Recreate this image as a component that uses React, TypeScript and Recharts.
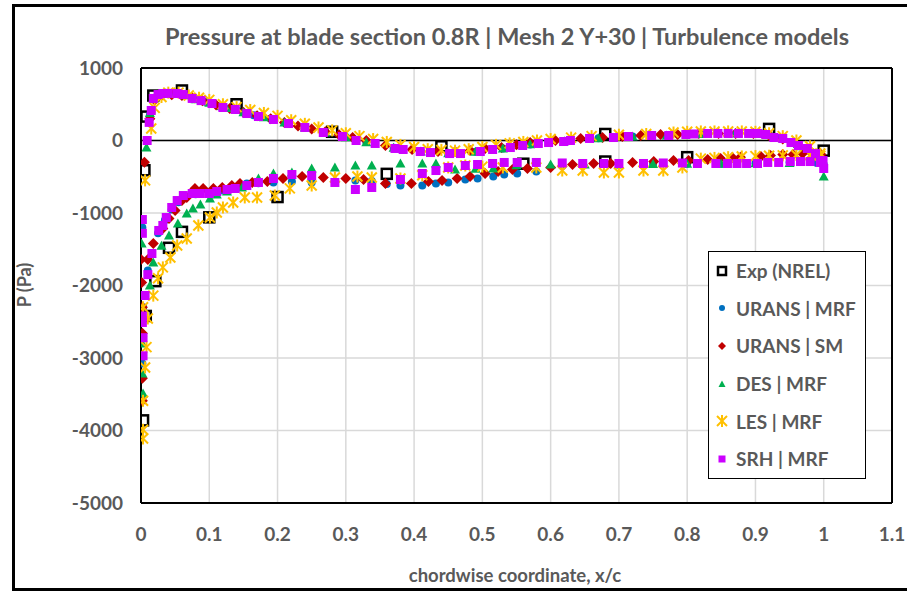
import React from 'react';
import {
  ScatterChart, Scatter, XAxis, YAxis, CartesianGrid, ReferenceLine,
} from 'recharts';

type Pt = [number, number];

// chordwise tick labels and pressure ticks
const xTicks = [0, 0.1, 0.2, 0.3, 0.4, 0.5, 0.6, 0.7, 0.8, 0.9, 1, 1.1];
const yTicks = [-5000, -4000, -3000, -2000, -1000, 0, 1000];

// Exp (NREL) taps
const expData: Pt[] = [
  [0.003, -3860], [0.005, -410], [0.008, 330], [0.018, 620], [0.06, 690], [0.14, 500],
  [0.28, 120], [0.44, -80], [0.68, 90], [0.92, 160], [1.0, -140],
  [0.007, -2420], [0.021, -1940], [0.041, -1480], [0.06, -1260], [0.1, -1060],
  [0.2, -780], [0.36, -460], [0.56, -320], [0.68, -290], [0.8, -230],
];

// URANS | MRF
const uransMrfData: Pt[] = [
  [0.002, -1200], [0.003, -2300], [0.002, -3076], [0.003, -2700], [0.01, -1793],
  [0.009, 0], [0.013, 350], [0.018, 570], [0.026, 630], [0.035, 645], [0.048, 645],
  [0.062, 630], [0.078, 575], [0.095, 530], [0.115, 470], [0.14, 420], [0.165, 350],
  [0.19, 300], [0.215, 240], [0.24, 180], [0.27, 110], [0.3, 50], [0.33, -20],
  [0.37, -100], [0.41, -150], [0.45, -175], [0.49, -155], [0.53, -110], [0.57, -55],
  [0.62, -10], [0.67, 30], [0.72, 55], [0.77, 70], [0.82, 90], [0.86, 97], [0.9, 97],
  [0.93, 40], [0.96, -60], [0.985, -170], [1.0, -330],
  [0.016, -1550], [0.025, -1280], [0.035, -1100], [0.045, -950], [0.055, -850],
  [0.065, -780], [0.08, -740], [0.1, -740], [0.12, -690], [0.14, -650], [0.155, -593],
  [0.172, -590], [0.194, -579], [0.221, -566], [0.25, -579], [0.284, -566], [0.314, -552],
  [0.338, -560], [0.36, -600], [0.38, -621], [0.412, -621], [0.432, -593], [0.45, -579],
  [0.475, -538], [0.493, -524], [0.516, -497], [0.532, -469], [0.551, -455], [0.579, -428],
  [0.617, -350], [0.647, -330], [0.7, -330], [0.75, -325], [0.8, -320], [0.85, -320],
  [0.9, -315], [0.95, -300], [0.99, -310],
];

// URANS | SM
const uransSmData: Pt[] = [
  [0.005, -300], [0.013, 300], [0.02, 560], [0.03, 620], [0.045, 630], [0.06, 620],
  [0.075, 590], [0.09, 550], [0.11, 490], [0.13, 440], [0.15, 390], [0.17, 340],
  [0.19, 300], [0.21, 250], [0.23, 200], [0.25, 160], [0.27, 120], [0.29, 80],
  [0.31, 40], [0.33, 0], [0.358, -69], [0.397, -124], [0.435, -152], [0.46, -150],
  [0.482, -138], [0.504, -110], [0.528, -97], [0.55, -60], [0.57, -28], [0.607, 0],
  [0.644, 28], [0.676, 41], [0.705, 55], [0.732, 69], [0.761, 83], [0.786, 83],
  [0.817, 97], [0.846, 97], [0.871, 97], [0.897, 97], [0.92, 70], [0.94, 20],
  [0.96, -60], [0.98, -150], [0.995, -230],
  [0.0, -1640], [0.001, -1960], [0.002, -2300], [0.002, -2660], [0.002, -3280],
  [0.002, -3590], [0.01, -1640], [0.018, -1420], [0.032, -1214], [0.041, -1076],
  [0.05, -966], [0.06, -828], [0.067, -786], [0.079, -662], [0.091, -662], [0.106, -662],
  [0.119, -648], [0.133, -621], [0.145, -593], [0.163, -579], [0.185, -566], [0.208, -524],
  [0.236, -497], [0.267, -510], [0.3, -524], [0.326, -538], [0.358, -593], [0.396, -593],
  [0.421, -566], [0.441, -552], [0.463, -524], [0.482, -497], [0.504, -455], [0.523, -428],
  [0.544, -400], [0.566, -386], [0.6, -372], [0.632, -331], [0.663, -317], [0.688, -317],
  [0.72, -303], [0.751, -290], [0.78, -276], [0.802, -276], [0.83, -262], [0.849, -248],
  [0.866, -234], [0.878, -230], [0.908, -221], [0.922, -207], [0.94, -193], [0.955, -193],
  [0.969, -180], [0.984, -180], [0.996, -193],
];

// DES | MRF
const desData: Pt[] = [
  [0.008, -97], [0.013, 380], [0.019, 580], [0.027, 630], [0.036, 645], [0.05, 645],
  [0.065, 625], [0.08, 570], [0.1, 520], [0.125, 450], [0.15, 390], [0.18, 320],
  [0.21, 250], [0.24, 180], [0.27, 110], [0.3, 45], [0.33, -25], [0.37, -100],
  [0.41, -150], [0.45, -175], [0.49, -155], [0.53, -110], [0.57, -50], [0.62, -10],
  [0.67, 30], [0.72, 55], [0.77, 70], [0.82, 90], [0.87, 97], [0.91, 90], [0.94, 30],
  [0.965, -80], [0.99, -220],
  [0.001, -1420], [0.013, -2000], [0.018, -1683], [0.002, -2800], [0.002, -3214],
  [0.003, -3490], [0.03, -1450], [0.041, -1310], [0.054, -1145], [0.067, -1007],
  [0.076, -938], [0.087, -883], [0.101, -800], [0.111, -745], [0.126, -703],
  [0.148, -648], [0.172, -524], [0.194, -455], [0.221, -441], [0.25, -386],
  [0.284, -372], [0.314, -345], [0.338, -345], [0.38, -317], [0.412, -317],
  [0.432, -317], [0.46, -400], [0.49, -390], [0.516, -386], [0.55, -340], [0.6, -330],
  [0.65, -330], [0.7, -330], [0.75, -325], [0.8, -320], [0.85, -320], [0.9, -315],
  [0.95, -310], [1.0, -497],
];

// LES | MRF
const lesData: Pt[] = [
  [0.006, -550], [0.015, 165], [0.02, 450], [0.03, 600], [0.04, 660], [0.055, 660],
  [0.07, 620], [0.085, 590], [0.1, 560], [0.12, 500], [0.14, 460], [0.16, 420],
  [0.18, 380], [0.2, 340], [0.22, 280], [0.24, 230], [0.26, 180], [0.28, 140],
  [0.3, 100], [0.32, 60], [0.34, 20], [0.36, -20], [0.38, -60], [0.4, -90],
  [0.42, -120], [0.44, -130], [0.46, -140], [0.48, -120], [0.5, -90], [0.52, -60],
  [0.54, -40], [0.56, -20], [0.58, 0], [0.6, 20], [0.63, 40], [0.66, 60], [0.7, 80],
  [0.74, 90], [0.78, 110], [0.8, 120], [0.82, 125], [0.84, 125], [0.86, 125],
  [0.88, 125], [0.9, 120], [0.92, 100], [0.94, 60], [0.96, 0], [0.98, -80], [0.995, -180],
  [0.003, -4110], [0.003, -3990], [0.003, -3590], [0.006, -3130], [0.008, -2850],
  [0.003, -2300], [0.01, -2455], [0.018, -2140], [0.025, -1900], [0.032, -1750],
  [0.043, -1614], [0.053, -1448], [0.067, -1352], [0.084, -1172], [0.101, -1062],
  [0.111, -993], [0.12, -924], [0.135, -855], [0.152, -786], [0.17, -786],
  [0.196, -759], [0.218, -660], [0.25, -621], [0.284, -510], [0.317, -497],
  [0.338, -510], [0.38, -524], [0.412, -480], [0.45, -372], [0.475, -345], [0.5, -360],
  [0.53, -372], [0.579, -372], [0.617, -414], [0.647, -414], [0.678, -441], [0.7, -441],
  [0.736, -414], [0.765, -414], [0.793, -372], [0.82, -250], [0.84, -240], [0.86, -230],
  [0.88, -220], [0.9, -215], [0.92, -210], [0.94, -205], [0.96, -200], [0.98, -200],
  [0.995, -210],
];

// SRH | MRF
const srhData: Pt[] = [
  [0.002, -1090], [0.002, -1280], [0.006, -2138], [0.01, -1850], [0.002, -2420],
  [0.002, -2510], [0.003, -2720], [0.003, -2970],
  [0.009, 0], [0.012, 250], [0.015, 414], [0.018, 580], [0.025, 634], [0.032, 648],
  [0.04, 650], [0.053, 648], [0.062, 634], [0.075, 580], [0.088, 550], [0.104, 510],
  [0.12, 455], [0.138, 428], [0.155, 372], [0.172, 331], [0.194, 290], [0.216, 234],
  [0.24, 180], [0.267, 110], [0.295, 55], [0.315, 0], [0.343, -41], [0.372, -110],
  [0.384, -124], [0.409, -152], [0.424, -166], [0.452, -180], [0.468, -180],
  [0.497, -152], [0.515, -124], [0.541, -97], [0.559, -69], [0.582, -41], [0.597, -28],
  [0.619, -14], [0.629, 0], [0.657, 28], [0.692, 41], [0.714, 55], [0.748, 69],
  [0.773, 69], [0.798, 83], [0.81, 90], [0.83, 97], [0.845, 97], [0.86, 97], [0.875, 97],
  [0.89, 97], [0.903, 97], [0.915, 83], [0.927, 41], [0.94, 28], [0.952, -28],
  [0.963, -69], [0.976, -110], [0.988, -180], [0.999, -276], [1.0, -386],
  [0.016, -1559], [0.026, -1241], [0.032, -1172], [0.037, -1062], [0.045, -924],
  [0.053, -828], [0.062, -759], [0.075, -731], [0.087, -731], [0.1, -731], [0.111, -703],
  [0.126, -676], [0.138, -662], [0.155, -621], [0.172, -579], [0.194, -524], [0.221, -469],
  [0.25, -483], [0.284, -579], [0.314, -676], [0.338, -648], [0.38, -538], [0.412, -455],
  [0.432, -414], [0.45, -372], [0.475, -345], [0.493, -331], [0.515, -317], [0.532, -303],
  [0.551, -303], [0.579, -303], [0.617, -310], [0.647, -317], [0.678, -317], [0.7, -317],
  [0.736, -317], [0.765, -310], [0.793, -310], [0.815, -317], [0.842, -317], [0.859, -317],
  [0.873, -317], [0.887, -317], [0.903, -317], [0.918, -303], [0.934, -303], [0.951, -290],
  [0.966, -290], [0.98, -290], [0.995, -303],
];

const toRows = (pts: Pt[]) => pts.map(([x, y]) => ({ x, y }));

const TEXT = '#595959';
const FONT = 'Lato, "Open Sans", sans-serif';

const ExpMark = ({ cx, cy }: any) => (
  <rect x={cx - 5} y={cy - 5} width={10} height={10} fill="none" stroke="#000" strokeWidth={2.5} />
);
const CircleMark = ({ cx, cy }: any) => <circle cx={cx} cy={cy} r={4} fill="#0070c0" />;
const DiamondMark = ({ cx, cy }: any) => (
  <polygon points={`${cx},${cy - 5.5} ${cx + 5.5},${cy} ${cx},${cy + 5.5} ${cx - 5.5},${cy}`} fill="#c00000" />
);
const TriangleMark = ({ cx, cy }: any) => (
  <polygon points={`${cx},${cy - 5} ${cx + 5},${cy + 4} ${cx - 5},${cy + 4}`} fill="#00b050" />
);
const StarMark = ({ cx, cy }: any) => (
  <g stroke="#ffc000" strokeWidth={2}>
    <line x1={cx - 5} y1={cy - 5} x2={cx + 5} y2={cy + 5} />
    <line x1={cx - 5} y1={cy + 5} x2={cx + 5} y2={cy - 5} />
    <line x1={cx} y1={cy - 6} x2={cx} y2={cy + 6} />
  </g>
);
const SquareMark = ({ cx, cy }: any) => (
  <rect x={cx - 4.5} y={cy - 4.5} width={9} height={9} fill="#cc00ff" />
);

const series = [
  { name: 'Exp (NREL)', data: expData, Mark: ExpMark },
  { name: 'URANS | MRF', data: uransMrfData, Mark: CircleMark },
  { name: 'URANS | SM', data: uransSmData, Mark: DiamondMark },
  { name: 'DES | MRF', data: desData, Mark: TriangleMark },
  { name: 'LES | MRF', data: lesData, Mark: StarMark },
  { name: 'SRH | MRF', data: srhData, Mark: SquareMark },
];

const legendIcon = (name: string) => {
  switch (name) {
    case 'Exp (NREL)':
      return <rect x={9} y={6} width={8} height={8} fill="none" stroke="#000" strokeWidth={2.5} />;
    case 'URANS | MRF':
      return <circle cx={13} cy={10} r={3} fill="#0070c0" />;
    case 'URANS | SM':
      return <polygon points="13,6 17,10 13,14 9,10" fill="#c00000" />;
    case 'DES | MRF':
      return <polygon points="13,6.5 16.5,13 9.5,13" fill="#00b050" />;
    case 'LES | MRF':
      return <StarMark cx={13} cy={10} />;
    default:
      return <rect x={9.5} y={6.5} width={7} height={7} fill="#cc00ff" />;
  }
};

const LegendBox = () => (
  <div
    style={{
      position: 'absolute', left: 708, top: 251, width: 158, height: 228,
      border: '1.5px solid #000', background: '#fff', boxSizing: 'border-box',
    }}
  >
    {series.map(({ name }) => (
      <div key={name} style={{ display: 'flex', alignItems: 'center', height: 37.6 }}>
        <svg width={27} height={20}>
          {legendIcon(name)}
        </svg>
        <span style={{ fontFamily: FONT, fontWeight: 700, fontSize: 19, color: TEXT, whiteSpace: 'nowrap' }}>
          {name}
        </span>
      </div>
    ))}
  </div>
);

export default function App() {
  return (
    <div style={{ position: 'absolute', left: 0, top: 0, width: 907, height: 592, background: '#fff', overflow: 'hidden' }}>
      <div
        style={{
          position: 'absolute', left: 12, top: 4, width: 920, height: 587,
          border: '3px solid #000', boxSizing: 'border-box',
        }}
      />
      <div
        style={{
          position: 'absolute', left: 0, width: 1014, top: 22, textAlign: 'center',
          fontFamily: FONT, fontWeight: 700, fontSize: 23.5, color: TEXT, whiteSpace: 'nowrap',
        }}
      >
        Pressure at blade section 0.8R | Mesh 2 Y+30 | Turbulence models
      </div>
      <div
        style={{
          position: 'absolute', left: 24, top: 285, transform: 'translate(-50%, -50%) rotate(-90deg)',
          fontFamily: FONT, fontWeight: 700, fontSize: 18, color: TEXT, whiteSpace: 'nowrap',
        }}
      >
        P (Pa)
      </div>
      <div
        style={{
          position: 'absolute', left: 0, width: 1030, top: 564, textAlign: 'center',
          fontFamily: FONT, fontWeight: 700, fontSize: 18.5, color: TEXT,
        }}
      >
        chordwise coordinate, x/c
      </div>
      <div style={{ position: 'absolute', left: 0, top: 0 }}>
        <ScatterChart width={907} height={592} margin={{ top: 68, right: 15, bottom: 59, left: 61 }}>
          <CartesianGrid stroke="#d9d9d9" strokeWidth={1.5} />
          <XAxis
            type="number" dataKey="x" domain={[0, 1.1]} ticks={xTicks} interval={0}
            axisLine={{ stroke: '#000', strokeWidth: 2 }} tickLine={false} tickMargin={19} height={30}
            tick={{ fill: TEXT, fontSize: 19, fontWeight: 700, fontFamily: FONT }}
            allowDataOverflow
          />
          <YAxis
            type="number" dataKey="y" domain={[-5000, 1000]} ticks={yTicks} interval={0}
            axisLine={{ stroke: '#000', strokeWidth: 2 }} tickLine={false} tickMargin={12} width={80}
            tick={{ fill: TEXT, fontSize: 19, fontWeight: 700, fontFamily: FONT }}
            allowDataOverflow
          />
          <ReferenceLine y={0} stroke="#000" strokeWidth={1.5} />
          <ReferenceLine y={1000} stroke="#000" strokeWidth={2} />
          <ReferenceLine x={1.1} stroke="#000" strokeWidth={2} />
          {series.map(({ name, data, Mark }) => (
            <Scatter
              key={name}
              name={name}
              data={toRows(data)}
              isAnimationActive={false}
              shape={(p: any) => <Mark cx={p.cx} cy={p.cy} />}
            />
          ))}
        </ScatterChart>
      </div>
      <LegendBox />
    </div>
  );
}
